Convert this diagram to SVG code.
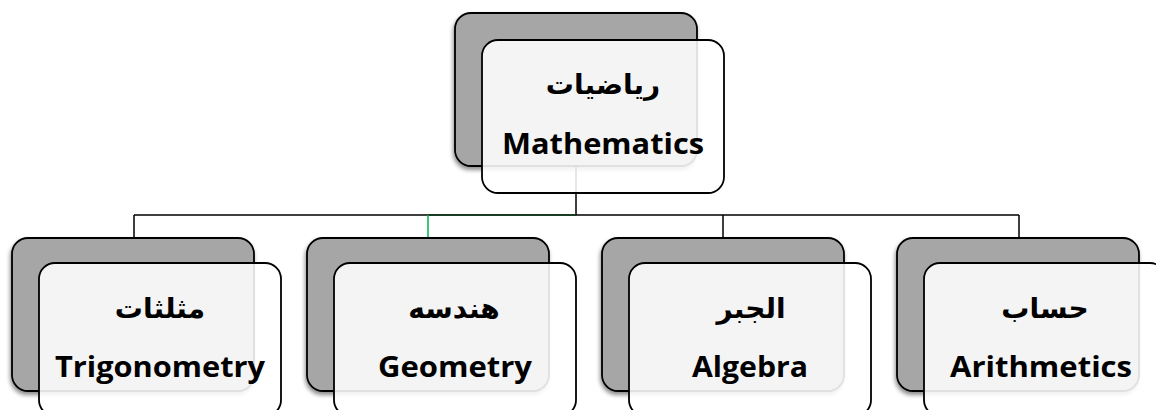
<svg xmlns="http://www.w3.org/2000/svg" width="1156" height="410" viewBox="0 0 1156 410">
<defs>
<filter id="sh" x="-10%" y="-10%" width="120%" height="125%">
<feDropShadow dx="-1" dy="3" stdDeviation="2" flood-color="#000" flood-opacity="0.45"/>
</filter>
<style>
.back{fill:#a6a6a6;stroke:#000;stroke-width:1.8;filter:url(#sh)}
.front{fill:#fff;fill-opacity:0.88;stroke:#000;stroke-width:1.8}
.ar{font-family:"DejaVu Sans",sans-serif;font-weight:bold;font-size:28px;fill:#000;text-anchor:middle}
.en{font-family:"Open Sans","Liberation Sans",sans-serif;font-weight:bold;font-size:28px;fill:#000;text-anchor:middle}
.conn{fill:none;stroke:#000;stroke-width:1.5}
</style>
</defs>
<rect width="1156" height="410" fill="#fff"/>
<g id="connectors">
<path class="conn" d="M576 166V215M134 215H1019M134 215V238M723 215V238M1019 215V238"/>
<path d="M428 215H576" fill="none" stroke="#0f3d1e" stroke-width="1.5"/>
<path d="M428 215V238" fill="none" stroke="#00b050" stroke-width="1.5"/>
</g>
<g id="mathematics">
<rect class="back" x="455" y="13" width="242" height="153" rx="16"/>
<rect class="front" x="482" y="40" width="242" height="153" rx="16"/>
<text class="ar" x="603" y="94" direction="rtl">رياضيات</text>
<text class="en" x="603" y="154" textLength="202" lengthAdjust="spacingAndGlyphs">Mathematics</text>
</g>
<g id="trigonometry">
<rect class="back" x="12" y="238" width="242" height="153" rx="16"/>
<rect class="front" x="39" y="263" width="242" height="153" rx="16"/>
<text class="ar" x="160" y="318" direction="rtl">مثلثات</text>
<text class="en" x="160" y="377" textLength="210" lengthAdjust="spacingAndGlyphs">Trigonometry</text>
</g>
<g id="geometry">
<rect class="back" x="307" y="238" width="242" height="153" rx="16"/>
<rect class="front" x="334" y="263" width="242" height="153" rx="16"/>
<text class="ar" x="454" y="318" direction="rtl">هندسه</text>
<text class="en" x="455" y="377" textLength="154" lengthAdjust="spacingAndGlyphs">Geometry</text>
</g>
<g id="algebra">
<rect class="back" x="602" y="238" width="242" height="153" rx="16"/>
<rect class="front" x="629" y="263" width="242" height="153" rx="16"/>
<text class="ar" x="751" y="318" direction="rtl">الجبر</text>
<text class="en" x="750" y="377" textLength="116" lengthAdjust="spacingAndGlyphs">Algebra</text>
</g>
<g id="arithmetics">
<rect class="back" x="897" y="238" width="242" height="153" rx="16"/>
<rect class="front" x="924" y="263" width="242" height="153" rx="16"/>
<text class="ar" x="1045" y="318" direction="rtl">حساب</text>
<text class="en" x="1041" y="377" textLength="182" lengthAdjust="spacingAndGlyphs">Arithmetics</text>
</g>
</svg>
